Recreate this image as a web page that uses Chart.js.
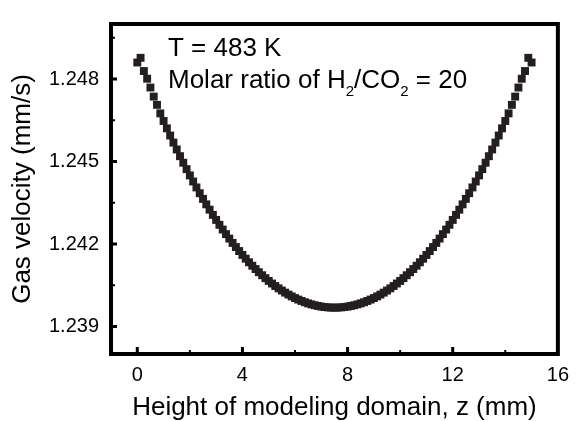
<!DOCTYPE html>
<html><head><meta charset="utf-8">
<script src="https://cdn.jsdelivr.net/npm/chart.js@4"></script>
<style>html,body{margin:0;padding:0;background:#fff;} #wrap{width:578px;height:421px;}</style>
</head><body><div id="wrap"><canvas id="c" width="578" height="421"></canvas></div>
<script>
const zValues = [0,0.125,0.25,0.375,0.5,0.625,0.75,0.875,1,1.125,1.25,1.375,1.5,1.625,1.75,1.875,2,2.125,2.25,2.375,2.5,2.625,2.75,2.875,3,3.125,3.25,3.375,3.5,3.625,3.75,3.875,4,4.125,4.25,4.375,4.5,4.625,4.75,4.875,5,5.125,5.25,5.375,5.5,5.625,5.75,5.875,6,6.125,6.25,6.375,6.5,6.625,6.75,6.875,7,7.125,7.25,7.375,7.5,7.625,7.75,7.875,8,8.125,8.25,8.375,8.5,8.625,8.75,8.875,9,9.125,9.25,9.375,9.5,9.625,9.75,9.875,10,10.125,10.25,10.375,10.5,10.625,10.75,10.875,11,11.125,11.25,11.375,11.5,11.625,11.75,11.875,12,12.125,12.25,12.375,12.5,12.625,12.75,12.875,13,13.125,13.25,13.375,13.5,13.625,13.75,13.875,14,14.125,14.25,14.375,14.5,14.625,14.75,14.875,15];
const velocity = [1.248600,1.248770,1.248290,1.248010,1.247690,1.247360,1.247060,1.246750,1.246473,1.246206,1.245944,1.245688,1.245438,1.245193,1.244955,1.244722,1.244494,1.244273,1.244057,1.243846,1.243641,1.243442,1.243248,1.243059,1.242876,1.242698,1.242526,1.242359,1.242197,1.242040,1.241889,1.241743,1.241602,1.241466,1.241335,1.241210,1.241089,1.240974,1.240864,1.240758,1.240658,1.240563,1.240472,1.240387,1.240307,1.240231,1.240161,1.240095,1.240034,1.239979,1.239928,1.239882,1.239841,1.239804,1.239773,1.239746,1.239724,1.239707,1.239695,1.239688,1.239686,1.239688,1.239695,1.239707,1.239724,1.239746,1.239773,1.239804,1.239841,1.239882,1.239928,1.239979,1.240034,1.240095,1.240161,1.240231,1.240307,1.240387,1.240472,1.240563,1.240658,1.240758,1.240864,1.240974,1.241089,1.241210,1.241335,1.241466,1.241602,1.241743,1.241889,1.242040,1.242197,1.242359,1.242526,1.242698,1.242876,1.243059,1.243248,1.243442,1.243641,1.243846,1.244057,1.244273,1.244494,1.244722,1.244955,1.245193,1.245438,1.245688,1.245944,1.246206,1.246473,1.246750,1.247060,1.247360,1.247690,1.248010,1.248290,1.248770,1.248600];
const xTicks = [0,4,8,12,16];
const xMinor = [2,6,10,14];
const yTicks = [1.239,1.242,1.245,1.248];
const yTickLabels = ['1.239','1.242','1.245','1.248'];
const yMinor = [1.2405,1.2435,1.2465,1.2495];
const xRange = [-1,16];
const yRange = [1.238,1.250];
const xTitle = 'Height of modeling domain, z (mm)';
const yTitle = 'Gas velocity (mm/s)';
const noteLine1 = 'T = 483 K';
const noteLine2 = [['Molar ratio of H',false],['2',true],['/CO',false],['2',true],[' = 20',false]];
const FONT = "'Liberation Sans', Arial, Helvetica, sans-serif";

const framePlugin = {
  id: 'frame',
  afterDatasetsDraw(chart) {
    const {ctx, chartArea: a, scales: {x, y}} = chart;
    ctx.save();
    ctx.strokeStyle = '#000';
    ctx.lineCap = 'butt';
    ctx.lineWidth = 3;
    ctx.beginPath();
    xTicks.forEach(v => { const p = x.getPixelForValue(v); if (p > a.left + 3 && p < a.right - 3) { ctx.moveTo(p, a.bottom); ctx.lineTo(p, a.bottom - 7); } });
    yTicks.forEach(v => { const p = y.getPixelForValue(v); ctx.moveTo(a.left, p); ctx.lineTo(a.left + 6, p); });
    ctx.stroke();
    ctx.lineWidth = 2;
    ctx.beginPath();
    xMinor.forEach(v => { const p = x.getPixelForValue(v); ctx.moveTo(p, a.bottom); ctx.lineTo(p, a.bottom - 4); });
    yMinor.forEach(v => { const p = y.getPixelForValue(v); ctx.moveTo(a.left, p); ctx.lineTo(a.left + 4, p); });
    ctx.stroke();
    ctx.lineWidth = 4;
    ctx.strokeRect(a.left, a.top, a.right - a.left, a.bottom - a.top);
    // annotation
    ctx.fillStyle = '#000';
    ctx.textAlign = 'left';
    ctx.textBaseline = 'alphabetic';
    ctx.font = '26px ' + FONT;
    let tx = a.left + 57;
    ctx.fillText(noteLine1, tx, a.top + 32);
    const by = a.top + 64;
    noteLine2.forEach(([t, sub]) => {
      ctx.font = (sub ? '15px ' : '26px ') + FONT;
      ctx.fillText(t, tx, sub ? by + 8 : by);
      tx += ctx.measureText(t).width;
    });
    ctx.restore();
  }
};

new Chart(document.getElementById('c'), {
  type: 'scatter',
  data: {
    datasets: [{
      data: zValues.map((z, i) => ({x: z, y: velocity[i]})),
      pointStyle: 'rect',
      pointRadius: 5.6,
      pointHoverRadius: 5.6,
      backgroundColor: '#231f20',
      borderWidth: 0,
      showLine: false
    }]
  },
  options: {
    responsive: false,
    animation: false,
    events: [],
    layout: {padding: {top: 14, right: 13, left: 0, bottom: 0}},
    plugins: {legend: {display: false}, tooltip: {enabled: false}},
    scales: {
      x: {
        type: 'linear', min: xRange[0], max: xRange[1],
        afterBuildTicks: s => { s.ticks = xTicks.map(v => ({value: v})); },
        afterFit: s => { s.height = 67; },
        grid: {display: false, drawTicks: false},
        border: {display: false},
        ticks: {font: {size: 20, family: FONT}, color: '#000', padding: 9, maxRotation: 0, autoSkip: false, callback: v => String(v)},
        title: {display: true, text: xTitle, color: '#000', font: {size: 26, family: FONT, lineHeight: 1.0}, padding: 0}
      },
      y: {
        type: 'linear', min: yRange[0], max: yRange[1],
        afterBuildTicks: s => { s.ticks = yTicks.map(v => ({value: v})); },
        afterFit: s => { s.width = 111; },
        grid: {display: false, drawTicks: false},
        border: {display: false},
        ticks: {font: {size: 20, family: FONT}, color: '#000', padding: 12, autoSkip: false, callback: (v, i) => yTickLabels[i]},
        title: {display: true, text: yTitle, color: '#000', font: {size: 26, family: FONT, lineHeight: 1.0}, padding: {top: 10, bottom: 0}}
      }
    }
  },
  plugins: [framePlugin]
});
</script>
</body></html>
